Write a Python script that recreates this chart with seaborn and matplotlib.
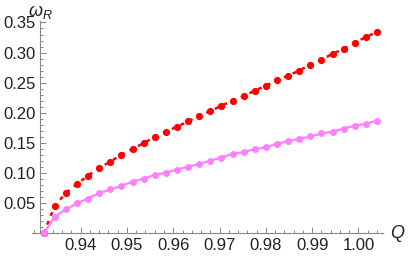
import numpy as np
import matplotlib
matplotlib.use("Agg")
import matplotlib.pyplot as plt
import seaborn as sns
from matplotlib.ticker import MultipleLocator, FormatStrFormatter

# values
q_vals = [0.9320, 0.9344, 0.9368, 0.9392, 0.9416, 0.9440, 0.9464, 0.9488,
          0.9512, 0.9536, 0.9560, 0.9584, 0.9608, 0.9632, 0.9656, 0.9680,
          0.9704, 0.9728, 0.9752, 0.9776, 0.9800, 0.9824, 0.9848, 0.9872,
          0.9896, 0.9920, 0.9944, 0.9968, 0.9992, 1.0016, 1.0040]
omega_red = [0.000, 0.046, 0.067, 0.082, 0.096, 0.109, 0.119, 0.131,
             0.140, 0.150, 0.160, 0.169, 0.177, 0.186, 0.195, 0.203,
             0.212, 0.220, 0.228, 0.237, 0.245, 0.254, 0.262, 0.270,
             0.280, 0.288, 0.298, 0.306, 0.316, 0.326, 0.334]
omega_pink = [0.000, 0.028, 0.040, 0.050, 0.058, 0.067, 0.073, 0.079,
              0.086, 0.091, 0.097, 0.101, 0.106, 0.111, 0.115, 0.121,
              0.126, 0.132, 0.135, 0.140, 0.143, 0.149, 0.153, 0.157,
              0.161, 0.166, 0.169, 0.174, 0.179, 0.182, 0.187]

sns.set_theme(style="white")
plt.rcParams['font.family'] = ['Liberation Sans', 'DejaVu Sans']
plt.rcParams['mathtext.fontset'] = 'custom'
plt.rcParams['mathtext.it'] = 'Liberation Sans:italic'
plt.rcParams['mathtext.rm'] = 'Liberation Sans'


def main():
    fig = plt.figure(figsize=(4.09, 2.58), dpi=100)
    ax = fig.add_axes([0.0775, 0.095, 0.86, 0.825])

    sns.lineplot(x=q_vals, y=omega_red, ax=ax, color='#ff0000', linestyle=(0, (1.6, 2.2)),
                 linewidth=1.8, marker='o', markersize=5.2, markeredgewidth=0,
                 clip_on=False, zorder=3)
    sns.lineplot(x=q_vals, y=omega_pink, ax=ax, color='#ff80ff', linewidth=1.6,
                 marker='o', markersize=5.0, markeredgewidth=0,
                 clip_on=False, zorder=4)

    ax.set_xlim(0.92942, 1.0054)
    ax.set_ylim(0, 0.353)

    for s in ['top', 'right']:
        ax.spines[s].set_visible(False)
    ax.spines['left'].set_position(('data', 0.9312))
    for s in ['left', 'bottom']:
        ax.spines[s].set_color('#888888')
        ax.spines[s].set_linewidth(0.8)

    ax.xaxis.set_minor_locator(MultipleLocator(0.002))
    ax.yaxis.set_minor_locator(MultipleLocator(0.01))
    ax.xaxis.set_major_formatter(FormatStrFormatter('%.2f'))
    ax.yaxis.set_major_formatter(FormatStrFormatter('%.2f'))
    ax.set_xticks([0.94, 0.95, 0.96, 0.97, 0.98, 0.99, 1.00])
    ax.set_yticks([0.05, 0.10, 0.15, 0.20, 0.25, 0.30, 0.35])

    ax.tick_params(which='both', direction='in', color='#888888', width=0.7,
                   labelsize=12, labelcolor='#222222',
                   bottom=True, left=True)
    ax.tick_params(which='major', length=4, pad=3)
    ax.tick_params(which='minor', length=2)

    ax.set_xlabel('')
    ax.set_ylabel('')
    fig.text(0.098, 0.99, r'$\omega_R$', fontsize=13, ha='center', va='top', color='#222222')
    fig.text(0.972, 0.095, r'$Q$', fontsize=13, ha='center', va='center', color='#222222')

    fig.savefig('out.png', dpi=100)


if __name__ == "__main__":
    main()
